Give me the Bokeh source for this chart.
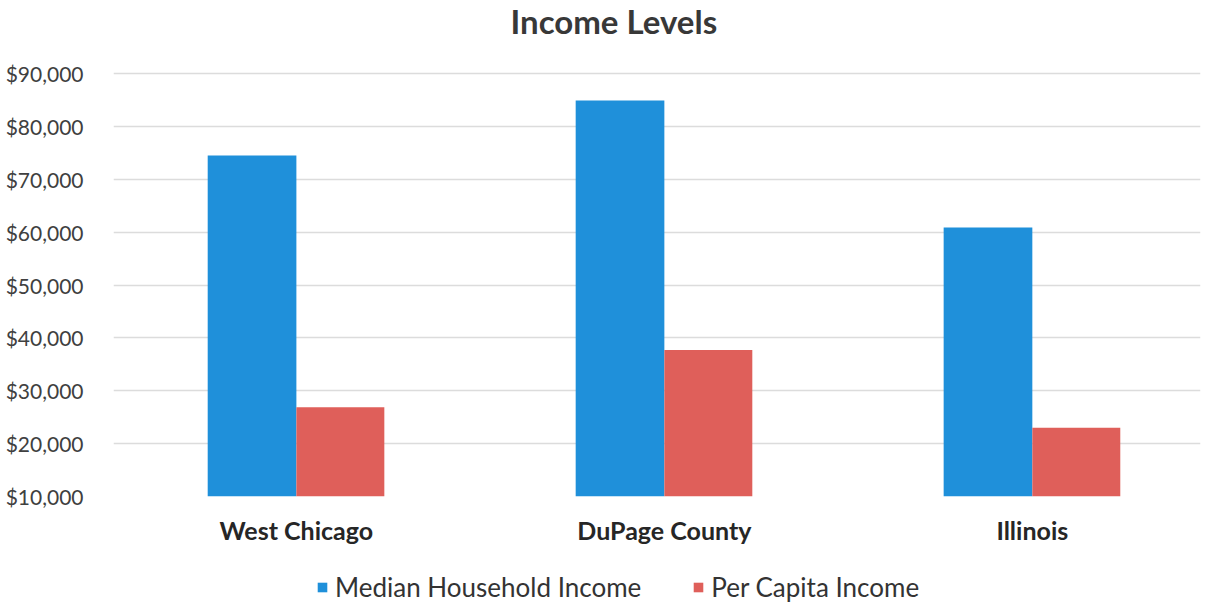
from bokeh.plotting import figure
from bokeh.layouts import column
from bokeh.models import (ColumnDataSource, Range1d, FixedTicker, Legend, LegendItem,
                          NumeralTickFormatter, Title)
from bokeh.transform import dodge
from bokeh.embed import file_html
from bokeh.resources import INLINE

categories = ["West Chicago", "DuPage County", "Illinois"]
median_household_income = [74500, 84900, 60900]
per_capita_income = [26900, 37700, 23000]
y_ticks = [10000, 20000, 30000, 40000, 50000, 60000, 70000, 80000, 90000]
series_names = ["Median Household Income", "Per Capita Income"]

FONT = "Lato"
BLUE = "#1F90DA"
RED = "#DF5F5A"

src = ColumnDataSource(dict(
    x=list(range(len(categories))),
    median=median_household_income,
    capita=per_capita_income,
))

p = figure(width=1207, height=560, output_backend="svg", toolbar_location=None,
           x_range=Range1d(-0.497, 2.457), y_range=Range1d(y_ticks[0], y_ticks[-1] + 400),
           min_border_left=113, min_border_right=7, min_border_top=0, min_border_bottom=64)
p.outline_line_color = None
p.background_fill_color = "white"

# spacer panel between the title and the plot area
p.add_layout(Title(text=" ", text_font_size="10px", standoff=16), "above")
p.add_layout(Title(text="Income Levels", text_font=FONT, text_font_size="33px",
                   text_font_style="bold", text_color="#383838", align="left",
                   vertical_align="top", offset=397, standoff=0), "above")

b1 = p.vbar(x=dodge("x", -0.1205, range=None), top="median", bottom=y_ticks[0], width=0.241,
            source=src, fill_color=BLUE, line_color=None)
b2 = p.vbar(x=dodge("x", 0.1195, range=None), top="capita", bottom=y_ticks[0], width=0.239,
            source=src, fill_color=RED, line_color=None)

# y axis
p.yaxis.ticker = FixedTicker(ticks=y_ticks)
p.yaxis.formatter = NumeralTickFormatter(format="$0,0")
p.yaxis.axis_line_color = None
p.yaxis.major_tick_line_color = None
p.yaxis.minor_tick_line_color = None
p.yaxis.major_label_standoff = 24
p.yaxis.major_label_text_font = FONT
p.yaxis.major_label_text_font_size = "21px"
p.yaxis.major_label_text_color = "#404040"

# x axis
p.xaxis.ticker = FixedTicker(ticks=list(range(len(categories))))
p.xaxis.major_label_overrides = {i: c for i, c in enumerate(categories)}
p.xaxis.axis_line_color = None
p.xaxis.major_tick_line_color = None
p.xaxis.minor_tick_line_color = None
p.xaxis.major_label_standoff = 12
p.xaxis.major_label_text_font = FONT
p.xaxis.major_label_text_font_size = "25px"
p.xaxis.major_label_text_font_style = "bold"
p.xaxis.major_label_text_color = "#262626"

p.xgrid.grid_line_color = None
p.ygrid.grid_line_color = "#DCDCDC"
p.ygrid.grid_line_width = 1.5

# legend strip below the chart
lg = figure(width=1207, height=46, output_backend="svg", toolbar_location=None,
            x_range=Range1d(0, 1), y_range=Range1d(0, 1),
            x_axis_location=None, y_axis_location=None,
            min_border_left=0, min_border_right=0, min_border_top=0, min_border_bottom=0)
lg.outline_line_color = None
lg.xgrid.grid_line_color = None
lg.ygrid.grid_line_color = None
l1 = lg.vbar(x="x", top="median", width=0.1, source=src, fill_color=BLUE, line_color=None, visible=False)
l2 = lg.vbar(x="x", top="capita", width=0.1, source=src, fill_color=RED, line_color=None, visible=False)

legend = Legend(items=[LegendItem(label=series_names[0], renderers=[l1]),
                       LegendItem(label=series_names[1], renderers=[l2])],
                orientation="horizontal", location=(203, 3), click_policy="none",
                label_text_font=FONT, label_text_font_size="26px",
                label_text_color="#333333", glyph_width=12, glyph_height=12,
                spacing=51, label_standoff=7, border_line_color=None,
                background_fill_alpha=0, padding=0, margin=0)
lg.add_layout(legend)

layout = column(p, lg, spacing=0)
open("out.html", "w").write(file_html(layout, INLINE))
